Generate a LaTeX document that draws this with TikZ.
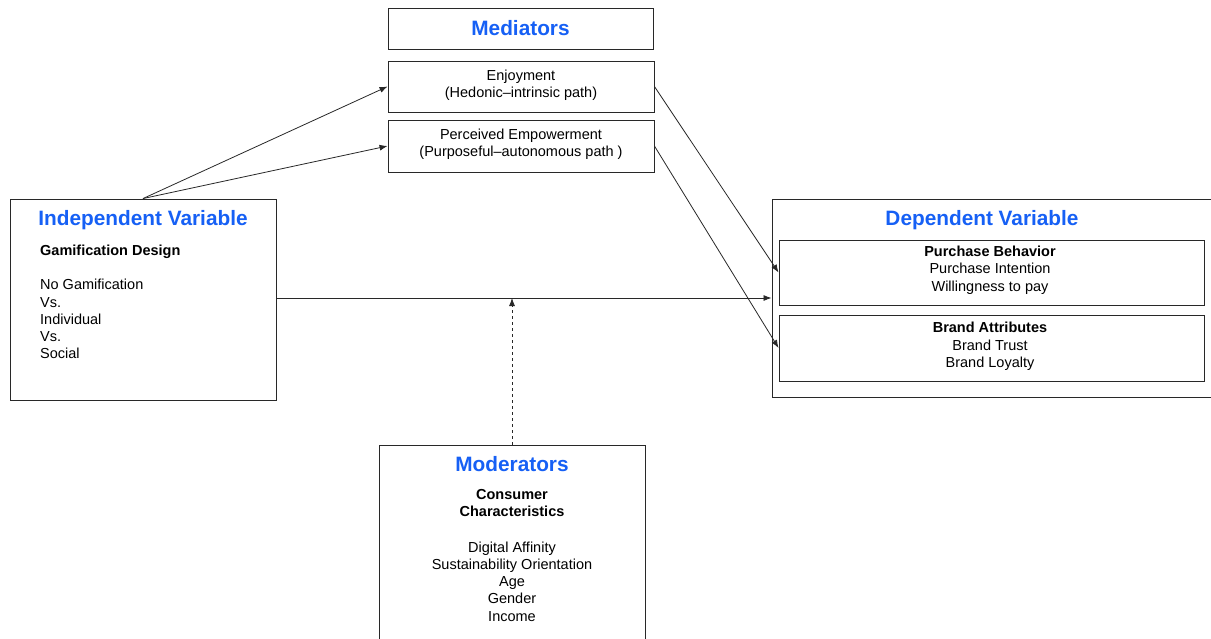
\documentclass[tikz,border=0pt]{standalone}
\usepackage{fontspec}
\setmainfont{Liberation Sans}
\usetikzlibrary{arrows.meta}
\definecolor{ttl}{RGB}{22,96,245}
\definecolor{edge}{RGB}{40,40,40}
\tikzset{
  boxnode/.style={draw=edge,line width=0.9pt,rectangle,inner sep=0pt},
  ttlnode/.style={font=\fontsize{20.8}{24}\selectfont\bfseries,text=ttl,inner sep=0pt},
  txt/.style={font=\fontsize{14.5}{17.3}\selectfont,inner sep=0pt,align=center},
  txtl/.style={font=\fontsize{14.5}{17.3}\selectfont,inner sep=0pt,align=left,anchor=north west},
  conn/.style={draw=edge,line width=0.8pt,-{Latex[length=8pt,width=6pt]}},
}
\begin{document}
\begin{tikzpicture}[x=1pt,y=-1pt]
\clip (0,0) rectangle (1211,638);
\fill[white] (0,0) rectangle (1211,638);
% boxes
\node[boxnode,minimum width=266pt,minimum height=201pt] (indep) at (143,299.5) {};
\node[boxnode,minimum width=265pt,minimum height=41pt] (medt) at (520.5,28.5) {};
\node[boxnode,minimum width=266pt,minimum height=51pt] (enj) at (521,86.5) {};
\node[boxnode,minimum width=266pt,minimum height=52pt] (per) at (521,146) {};
\node[boxnode,minimum width=446pt,minimum height=198pt] (dep) at (995,298) {};
\node[boxnode,minimum width=425pt,minimum height=65pt] (pb) at (991.5,272.5) {};
\node[boxnode,minimum width=425pt,minimum height=66pt] (ba) at (991.5,348) {};
\node[boxnode,minimum width=266pt,minimum height=220pt] (mod) at (512,555) {};
% titles
\node[ttlnode] (indept) at (143,220) {Independent Variable};
\node[ttlnode] (medtt) at (520.5,28.5) {Mediators};
\node[ttlnode] (dept) at (982,220) {Dependent Variable};
\node[ttlnode] (modt) at (512,464) {Moderators};
% texts
\node[txtl,font=\fontsize{14.5}{17.3}\selectfont\bfseries,anchor=west] (gd) at (40,252) {Gamification Design};
\node[txtl,anchor=north west] (gl) at (40,279) {No Gamification\\Vs.\\Individual\\Vs.\\Social};
\node[txt] (enjt) at (521,85) {Enjoyment\\(Hedonic–intrinsic path)};
\node[txt] (pert) at (521,144) {Perceived Empowerment\\(Purposeful–autonomous path )};
\node[txt] (pbt) at (990,270) {\textbf{Purchase Behavior}\\Purchase Intention\\Willingness to pay};
\node[txt] (bat) at (990,346.5) {\textbf{Brand Attributes}\\Brand Trust\\Brand Loyalty};
\node[txt] (modct) at (512,503) {\textbf{Consumer}\\\textbf{Characteristics}};
\node[txt] (modl) at (512,581.5) {Digital Affinity\\Sustainability Orientation\\Age\\Gender\\Income};
% connectors
\coordinate (hit) at (512,298);
\draw[conn] (indep.north) -- (enj.west);
\draw[conn] (indep.north) -- (per.west);
\draw[conn] (enj.east) -- (pb.west);
\draw[conn] (per.east) -- (ba.west);
\draw[conn] (indep.east |- hit) -- (dep.west);
\draw[conn,dashed] (mod.north) -- (hit);
\end{tikzpicture}
\end{document}
